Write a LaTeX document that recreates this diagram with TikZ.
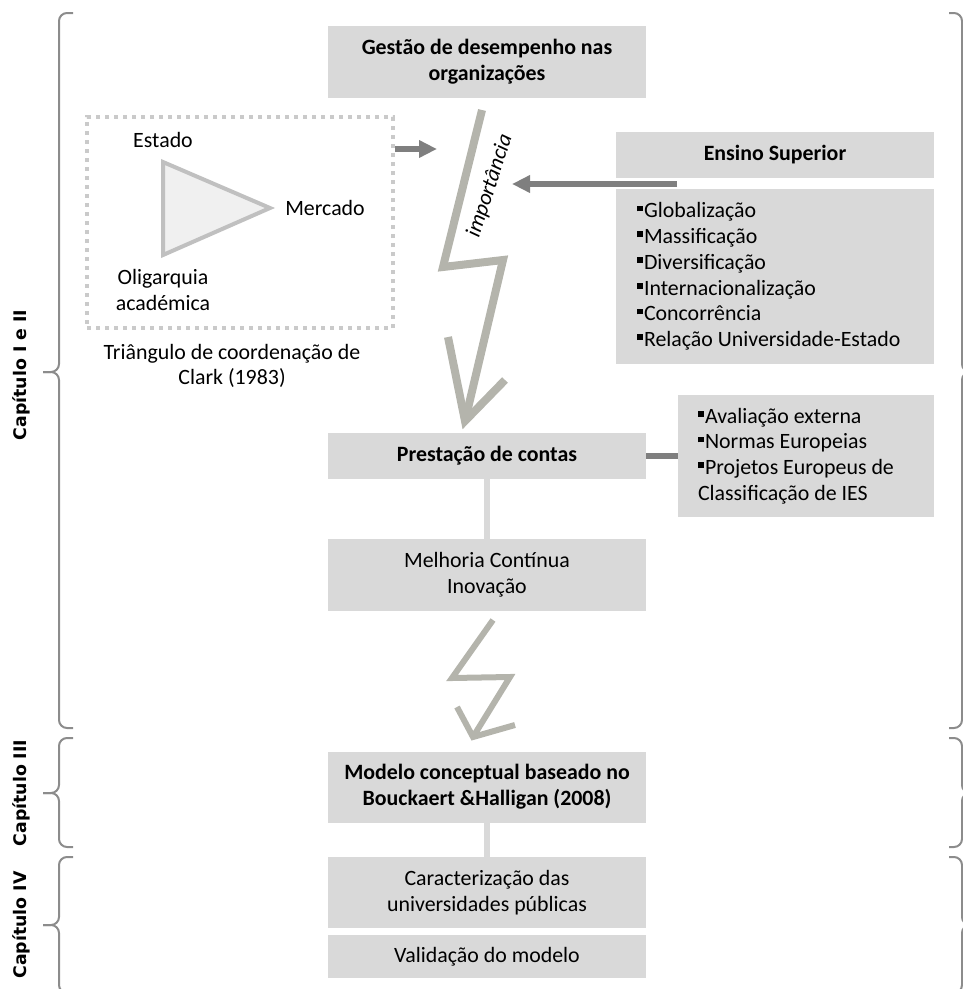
\documentclass[tikz,border=0pt]{standalone}
\usepackage{fontspec}
\setmainfont{Carlito}
\newfontfamily\chapfont{DejaVu Sans}
\usetikzlibrary{arrows.meta}
\definecolor{boxgray}{HTML}{D9D9D9}
\definecolor{arrgray}{HTML}{7F7F7F}
\definecolor{boltgray}{HTML}{B4B4AC}
\definecolor{dotgray}{HTML}{CACACA}
\definecolor{trigray}{HTML}{C0C0C0}
\definecolor{trifill}{HTML}{F0F0F0}
\definecolor{bracegray}{HTML}{8C8C8C}
\newcommand{\boxfont}{\fontsize{16.4}{19.3}\selectfont}
\newcommand{\blt}{\raisebox{0.3em}{\rule{0.26em}{0.26em}}\hspace{0.06em}}
\tikzset{
  graybox/.style={fill=boxgray,inner sep=0pt,align=center,font=\boxfont},
  listbox/.style={fill=boxgray,inner ysep=0pt,align=flush left,font=\boxfont},
  plaintext/.style={inner sep=0pt,align=center,font=\boxfont},
  chaplabel/.style={rotate=90,inner sep=0pt,font=\chapfont\fontsize{13}{15}\selectfont\bfseries},
  darkarr/.style={-{Triangle[length=13.5pt,width=12.5pt]},draw=arrgray,line width=4pt},
  darkline/.style={draw=arrgray,line width=4pt},
  lightline/.style={draw=boxgray,line width=4.5pt},
  bolt/.style={draw=boltgray,line join=miter},
  bracelin/.style={draw=bracegray,line width=1.5pt,rounded corners=6pt}
}

\begin{document}
\begin{tikzpicture}[x=0.75pt,y=-0.75pt]
  \useasboundingbox (0,0) rectangle (963,989);
  \clip (0,0) rectangle (963,989);

  % chapter braces, left
  \draw[bracelin] (73,13) -- (59,13) -- (59,372) -- (43,372);
  \draw[bracelin] (43,372) -- (59,372) -- (59,728) -- (73,728);
  \draw[bracelin] (73,738) -- (59,738) -- (59,793) -- (43,793);
  \draw[bracelin] (43,793) -- (59,793) -- (59,847) -- (73,847);
  \draw[bracelin] (73,857) -- (59,857) -- (59,925) -- (43,925);
  \draw[bracelin] (43,925) -- (59,925) -- (59,993) -- (73,993);
  % chapter braces, right
  \draw[bracelin] (949,13) -- (962,13) -- (962,372) -- (978,372);
  \draw[bracelin] (978,372) -- (962,372) -- (962,728) -- (949,728);
  \draw[bracelin] (949,738) -- (962,738) -- (962,793) -- (978,793);
  \draw[bracelin] (978,793) -- (962,793) -- (962,847) -- (949,847);
  \draw[bracelin] (949,857) -- (962,857) -- (962,925) -- (978,925);
  \draw[bracelin] (978,925) -- (962,925) -- (962,993) -- (949,993);

  \node[chaplabel] (cap12) at (21,375) {Capítulo I e II};
  \node[chaplabel] (cap3) at (21,793) {Capítulo III};
  \node[chaplabel] (cap4) at (21,925) {Capítulo IV};

  % main column
  \node[graybox,minimum width=238.5pt,minimum height=54pt,font=\boxfont\bfseries] (gestao) at (487,62)
    {Gestão de desempenho nas\\organizações};
  \node[graybox,minimum width=238.5pt,minimum height=34.5pt,font=\boxfont\bfseries] (prest) at (487,456)
    {Prestação de contas};
  \node[graybox,minimum width=238.5pt,minimum height=54pt] (melhoria) at (487,575)
    {Melhoria Contínua\\Inovação};
  \node[graybox,minimum width=238.5pt,minimum height=53.25pt,font=\boxfont\bfseries] (modelo) at (487,787)
    {Modelo conceptual baseado no\\Bouckaert \&Halligan (2008)};
  \node[graybox,minimum width=238.5pt,minimum height=53.25pt] (caract) at (487,892.5)
    {Caracterização das\\universidades públicas};
  \node[graybox,minimum width=238.5pt,minimum height=32.25pt] (valid) at (487,956.5)
    {Validação do modelo};

  % right column
  \node[graybox,minimum width=238.5pt,minimum height=34.5pt,font=\boxfont\bfseries] (ensino) at (775,154.5)
    {Ensino Superior};
  \node[listbox,minimum width=238.5pt,minimum height=131.25pt,inner xsep=15.75pt,text width=207pt] (fatores) at (775,276.5)
    {\blt Globalização\\\blt Massificação\\\blt Diversificação\\\blt Internacionalização\\\blt Concorrência\\\blt Relação Universidade-Estado};
  \node[listbox,minimum width=192pt,minimum height=91.5pt,inner xsep=15pt,text width=162pt] (aval) at (806,456)
    {\blt Avaliação externa\\\blt Normas Europeias\\\blt Projetos Europeus de\\Classificação de IES};

  % Clark triangle
  \node[draw=dotgray,line width=3pt,dash pattern=on 3pt off 3.75pt,minimum width=229.5pt,minimum height=158.25pt] (clarkbox) at (240,222.5) {};
  \draw[draw=trigray,fill=trifill,line width=3pt] (163,162) -- (163,255) -- (270,208) -- cycle;
  \node[plaintext] (estado) at (163,140) {Estado};
  \node[plaintext] (mercado) at (325,208) {Mercado};
  \node[plaintext] (oligarquia) at (163,290) {Oligarquia\\académica};
  \node[plaintext] (clarkcap) at (232,366) {Triângulo de coordenação de\\Clark (1983)};

  % lightning arrows
  \draw[bolt,line width=6pt] (482,110) -- (443,267) -- (503,260) -- (465,421);
  \draw[bolt,line width=6pt] (448,337) -- (465,421) -- (505,380);
  \draw[bolt,line width=4.5pt] (493,620) -- (452,678) -- (510,677) -- (473,737);
  \draw[bolt,line width=4.5pt] (457,707) -- (473,737) -- (515,725);
  \node[plaintext,rotate=72,font=\boxfont\itshape] (importancia) at (490,186) {importância};

  % connectors
  \coordinate (boltA) at (437,149);
  \coordinate (boltB) at (512,184);
  \coordinate (ensgap) at (677,184);
  \draw[darkarr] (clarkbox.east |- boltA) -- (boltA);
  \draw[darkarr] (ensgap) -- (boltB);
  \draw[darkline] (prest.east) -- (aval.west);
  \draw[lightline] (prest.south) -- (melhoria.north);
  \draw[lightline] (modelo.south) -- (caract.north);
\end{tikzpicture}
\end{document}
